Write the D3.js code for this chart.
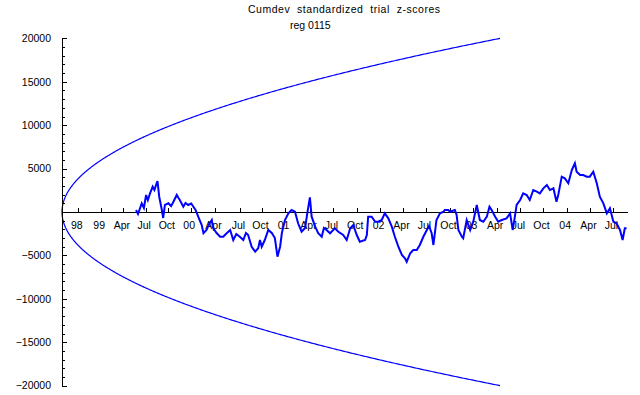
<!DOCTYPE html>
<html>
<head>
<meta charset="utf-8">
<script src="https://cdn.jsdelivr.net/npm/d3@7"></script>
<style>
  body { margin: 0; background: #fff; }
  svg { display: block; font-family: "Liberation Sans", Arial, sans-serif; }
  .axis text { font-size: 10.5px; fill: #000; }
  .axis path, .axis line { stroke: #000; shape-rendering: crispEdges; }
</style>
</head>
<body>
<svg id="chart" width="640" height="395"></svg>
<script>
// cumulative trials (millions) and cumulative deviation
const trials = [
  16.9, 17.35, 18.2, 18.7, 19.2, 19.6, 20.1, 20.7, 21.1, 21.6, 21.8, 22.2, 22.8, 23.1, 23.5,
  24.3, 24.9, 25.3, 26.2, 26.6, 26.9, 27.7, 28.2, 28.8, 29.5, 30.0, 30.5, 31.1, 31.9, 32.3,
  33.0, 33.6, 34.2, 34.5, 35.3, 36.1, 36.8, 37.6, 38.4, 39.1, 39.8, 40.6, 41.4, 42.0, 42.5,
  43.3, 44.1, 44.8, 45.2, 45.6, 46.3, 47.1, 47.9, 48.6, 49.2, 49.8, 50.2, 50.9, 51.7, 52.4,
  53.2, 53.9, 54.7, 55.5, 56.0, 56.6, 57.0, 57.8, 58.5, 59.3, 59.8, 60.4, 61.2, 62.3, 63.1,
  64.2, 65.0, 65.8, 66.5, 67.3, 68.0, 69.2, 69.6, 69.9, 70.7, 71.5, 72.2, 73.0, 73.7, 74.5,
  75.3, 76.0, 76.8, 77.6, 78.3, 78.7, 79.5, 80.2, 81.0, 81.7, 82.5, 83.3, 83.8, 84.4, 84.8,
  85.5, 86.3, 87.1, 87.4, 88.2, 88.6, 89.7, 90.1, 90.5, 91.3, 91.6, 92.4, 93.2, 93.9, 94.7,
  95.4, 96.2, 97.0, 97.6, 98.1, 98.9, 99.6, 100.4, 101.5, 102.3, 102.9, 103.4, 103.8, 104.6, 105.3,
  106.1, 106.8, 107.6, 108.4, 109.1, 109.9, 110.7, 111.4, 112.2, 112.9, 113.3, 114.1, 114.8, 115.6, 116.4,
  117.1, 117.5, 118.3, 119.0, 119.8, 120.5, 121.3, 122.1, 122.8, 123.6, 124.4, 125.1, 125.9, 126.6, 127.4,
  128.0, 128.5, 128.9
];
const cumdev = [
  230, -230, 1000, 460, 1960, 1380, 2150, 2910, 2530, 3310, 3570, 1760, 230, -690, 810,
  1000, 690, 1040, 1960, 1610, 1380, 610, 1040, 810, 980, 610, 230, -540, -1500, -2450,
  -2070, -1380, -920, -1840, -2420, -2850, -2850, -2450, -2070, -3230, -2530, -2850, -3230, -2420, -2650,
  -4000, -4570, -4180, -3230, -4000, -3230, -2070, -2420, -3000, -5150, -4000, -2420, -920, -150, 230,
  30, -1300, -2270, -1840, -150, 1690, -540, -1690, -2450, -2850, -1840, -2070, -2450, -1880, -2270,
  -2650, -3230, -1880, -1500, -2650, -3420, -3230, -2650, -540, -540, -1120, -1120, -920, -150, -730,
  -1690, -2850, -4000, -4950, -5330, -5730, -4760, -4380, -4380, -3800, -2850, -2070, -1610, -2450, -3800,
  -920, -150, 30, 230, 230, 30, 230, -350, -2070, -2850, -3030, -920, -2070, -1120, 810,
  -920, -1120, -540, 610, 230, -540, -1120, -920, -730, -150, -2070, -540, 810, 1380, 2150,
  1960, 1380, 2530, 2340, 2150, 2730, 3110, 2530, 2730, 1190, 1960, 4070, 3880, 3310, 4840,
  5610, 4640, 4260, 4260, 4070, 4070, 4640, 3310, 1760, 1000, -150, 430, -1120, -1300, -2070,
  -3230, -1880, -1880
];

// x-axis date ticks, placed at the trial count reached on each date
const tickTrials = [3.72, 8.84, 14.0, 19.1, 24.27, 29.38, 34.93, 40.64, 45.66, 50.91, 56.62, 61.87,
  67.28, 72.6, 77.85, 83.1, 88.58, 93.84, 99.25, 104.57, 109.82, 115.23, 120.55, 125.8];
const tickLabels = ["98", "99", "Apr", "Jul", "Oct", "00", "Apr", "Jul", "Oct", "01", "Apr", "Jul",
  "Oct", "02", "Apr", "Jul", "Oct", "03", "Apr", "Jul", "Oct", "04", "Apr", "Jul"];

const yMajor = [-20000, -15000, -10000, -5000, 5000, 10000, 15000, 20000];
const envelopeEnd = 100;   // envelope drawn out to 100 million trials
const envelopeK = 2;       // +-2 sigma

const titleLines = ["Cumdev\u00a0\u00a0standardized\u00a0\u00a0trial\u00a0\u00a0z-scores", "reg 0115"];

const svg = d3.select("#chart");

const x = d3.scaleLinear().domain([0, 129]).range([62, 627]);
const y = d3.scaleLinear().domain([-20000, 20000]).range([385.6, 38.4]);

// envelope
const envPts = d3.range(0, 401).map(function(i) {
  const n = envelopeEnd * Math.pow(i / 400, 2);
  return { n: n, v: envelopeK * Math.sqrt(n * 1e6) };
});
const envUp = d3.line().x(d => x(d.n)).y(d => y(d.v));
const envDn = d3.line().x(d => x(d.n)).y(d => y(-d.v));

svg.append("path").attr("d", envUp(envPts))
  .attr("fill", "none").attr("stroke", "#0000ff").attr("stroke-width", 1.2);
svg.append("path").attr("d", envDn(envPts))
  .attr("fill", "none").attr("stroke", "#0000ff").attr("stroke-width", 1.2);

// axes
const yMinor = d3.range(-20000, 20001, 1000).filter(v => v % 5000 !== 0 || v === 0);

svg.append("g").attr("class", "axis")
  .attr("transform", "translate(" + x(0) + ",0)")
  .call(d3.axisLeft(y).tickValues(yMinor).tickSize(-2.5).tickSizeOuter(0).tickFormat(""));

svg.append("g").attr("class", "axis")
  .attr("transform", "translate(" + x(0) + ",0)")
  .call(d3.axisLeft(y).tickValues(yMajor).tickSize(-4.5).tickSizeOuter(0)
    .tickPadding(11).tickFormat(d => d < 0 ? "\u2212" + Math.abs(d) : d));

svg.append("g").attr("class", "axis")
  .attr("transform", "translate(0," + y(0) + ")")
  .call(d3.axisBottom(x).tickValues(tickTrials).tickSize(-4).tickSizeOuter(0)
    .tickPadding(10).tickFormat((d, i) => tickLabels[i]))
  .selectAll("text").attr("dx", "-2");

// data
const series = trials.map((t, i) => ({ t: t, v: cumdev[i] }));
svg.append("path")
  .attr("d", d3.line().x(d => x(d.t)).y(d => y(d.v))(series))
  .attr("fill", "none")
  .attr("stroke", "#0000ff")
  .attr("stroke-width", 2)
  .attr("stroke-linejoin", "miter");

// title
svg.append("text").attr("x", 248).attr("y", 13)
  .attr("font-size", "10.5px")
  .attr("textLength", 192).attr("lengthAdjust", "spacing")
  .text(titleLines[0]);
svg.append("text").attr("x", 290).attr("y", 29)
  .attr("font-size", "10.5px").text(titleLines[1]);
</script>
</body>
</html>
